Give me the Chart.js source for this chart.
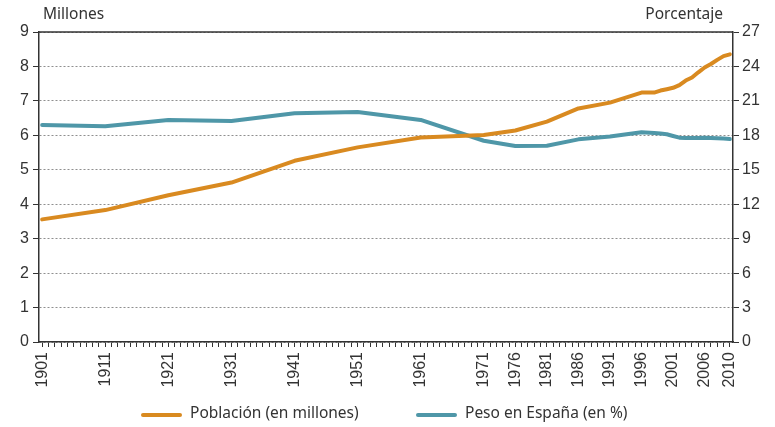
<!DOCTYPE html>
<html>
<head>
<meta charset="utf-8">
<script src="https://cdn.jsdelivr.net/npm/chart.js@4"></script>
<style>
  html, body { margin: 0; padding: 0; background: #fff; }
  #wrap { width: 775px; height: 427px; }
</style>
</head>
<body>
<div id="wrap"><canvas id="grafico"></canvas></div>
<script>
// Años de cada observación
const anios = [1901, 1911, 1921, 1931, 1941, 1951, 1961, 1971, 1976, 1981, 1986, 1991, 1996,
  1998, 1999, 2000, 2001, 2002, 2003, 2004, 2005, 2006, 2007, 2008, 2009, 2010];
// Población (millones)
const poblacion = [3.56, 3.83, 4.26, 4.63, 5.26, 5.65, 5.94, 6.01, 6.14, 6.40, 6.78, 6.95, 7.24,
  7.24, 7.30, 7.34, 7.38, 7.46, 7.59, 7.68, 7.83, 7.97, 8.07, 8.19, 8.30, 8.35];
// Peso en España (%)
const peso = [18.9, 18.8, 19.34, 19.25, 19.92, 20.03, 19.34, 17.53, 17.07, 17.1, 17.65, 17.89, 18.27,
  18.2, 18.15, 18.09, 17.94, 17.8, 17.77, 17.77, 17.77, 17.8, 17.77, 17.74, 17.72, 17.68];
// Etiquetas del eje X
const etiquetasX = [1901, 1911, 1921, 1931, 1941, 1951, 1961, 1971, 1976, 1981, 1986, 1991, 1996, 2001, 2006, 2010];
const nombresSeries = ['Población (en millones)', 'Peso en España (en %)'];

const colorNaranja = '#d98a20';
const colorAzul = '#4f97a8';
const colorEje = '#333333';
const fuenteTexto = "'Noto Sans', sans-serif";
const fuenteNum = "'Liberation Sans', Arial, sans-serif";

// Títulos de ejes, borde superior y leyenda
const extras = {
  id: 'extras',
  afterDraw(chart) {
    const ctx = chart.ctx;
    const area = chart.chartArea;
    ctx.save();
    // borde superior
    ctx.strokeStyle = colorEje;
    ctx.lineWidth = 1.5;
    ctx.beginPath();
    ctx.moveTo(area.left, area.top);
    ctx.lineTo(area.right, area.top);
    ctx.stroke();
    // títulos
    ctx.fillStyle = '#333';
    ctx.font = '15.5px ' + fuenteTexto;
    ctx.textBaseline = 'middle';
    ctx.textAlign = 'left';
    ctx.fillText('Millones', 43, 15);
    ctx.textAlign = 'right';
    ctx.fillText('Porcentaje', 723, 15);
    // leyenda
    const items = [
      { x: 143, color: colorNaranja, texto: nombresSeries[0] },
      { x: 418, color: colorAzul, texto: nombresSeries[1] }
    ];
    ctx.textAlign = 'left';
    ctx.font = '15.5px ' + fuenteTexto;
    ctx.lineCap = 'round';
    items.forEach(it => {
      ctx.strokeStyle = it.color;
      ctx.lineWidth = 4;
      ctx.beginPath();
      ctx.moveTo(it.x, 415);
      ctx.lineTo(it.x + 37, 415);
      ctx.stroke();
      ctx.fillStyle = '#333';
      ctx.fillText(it.texto, it.x + 47, 414);
    });
    ctx.restore();
  }
};

new Chart(document.getElementById('grafico'), {
  type: 'line',
  data: {
    datasets: [
      {
        label: nombresSeries[0],
        data: anios.map((a, i) => ({ x: a, y: poblacion[i] })),
        borderColor: colorNaranja,
        borderWidth: 4,
        borderCapStyle: 'round',
        borderJoinStyle: 'round',
        pointRadius: 0,
        yAxisID: 'y'
      },
      {
        label: nombresSeries[1],
        data: anios.map((a, i) => ({ x: a, y: peso[i] })),
        borderColor: colorAzul,
        borderWidth: 4,
        borderCapStyle: 'round',
        borderJoinStyle: 'round',
        pointRadius: 0,
        yAxisID: 'y1'
      }
    ]
  },
  options: {
    responsive: true,
    maintainAspectRatio: false,
    animation: false,
    layout: { padding: { top: 32, bottom: 0, left: 0, right: 0 } },
    plugins: { legend: { display: false }, tooltip: { enabled: false } },
    scales: {
      x: {
        type: 'linear',
        min: 1900.5,
        max: 2010.5,
        afterBuildTicks: scale => {
          const t = [];
          for (let a = 1901; a <= 2010; a++) t.push({ value: a });
          scale.ticks = t;
        },
        afterFit: scale => { scale.height = 85; },
        grid: { drawOnChartArea: false, drawTicks: true, tickLength: 5, tickColor: colorEje, tickBorderDash: [] },
        border: { display: true, color: colorEje, width: 1.5 },
        ticks: {
          autoSkip: false,
          maxRotation: 90,
          minRotation: 90,
          padding: 5,
          color: '#333',
          font: { family: fuenteNum, size: 16 },
          callback: v => etiquetasX.includes(v) ? String(v) : ''
        }
      },
      y: {
        position: 'left',
        min: 0,
        max: 9,
        afterFit: scale => { scale.width = 39; },
        grid: { color: '#8f8f8f', lineWidth: 1, tickLength: 6, tickColor: colorEje, tickBorderDash: [] },
        border: { display: true, color: colorEje, width: 1.5, dash: [2, 2] },
        ticks: { stepSize: 1, padding: 4, color: '#333', font: { family: fuenteNum, size: 16 } }
      },
      y1: {
        position: 'right',
        min: 0,
        max: 27,
        afterFit: scale => { scale.width = 42; },
        grid: { drawOnChartArea: false, tickLength: 6, tickColor: colorEje, tickBorderDash: [] },
        border: { display: true, color: colorEje, width: 1.5 },
        ticks: { stepSize: 3, padding: 3, color: '#333', font: { family: fuenteNum, size: 16 } }
      }
    }
  },
  plugins: [extras]
});
</script>
</body>
</html>
